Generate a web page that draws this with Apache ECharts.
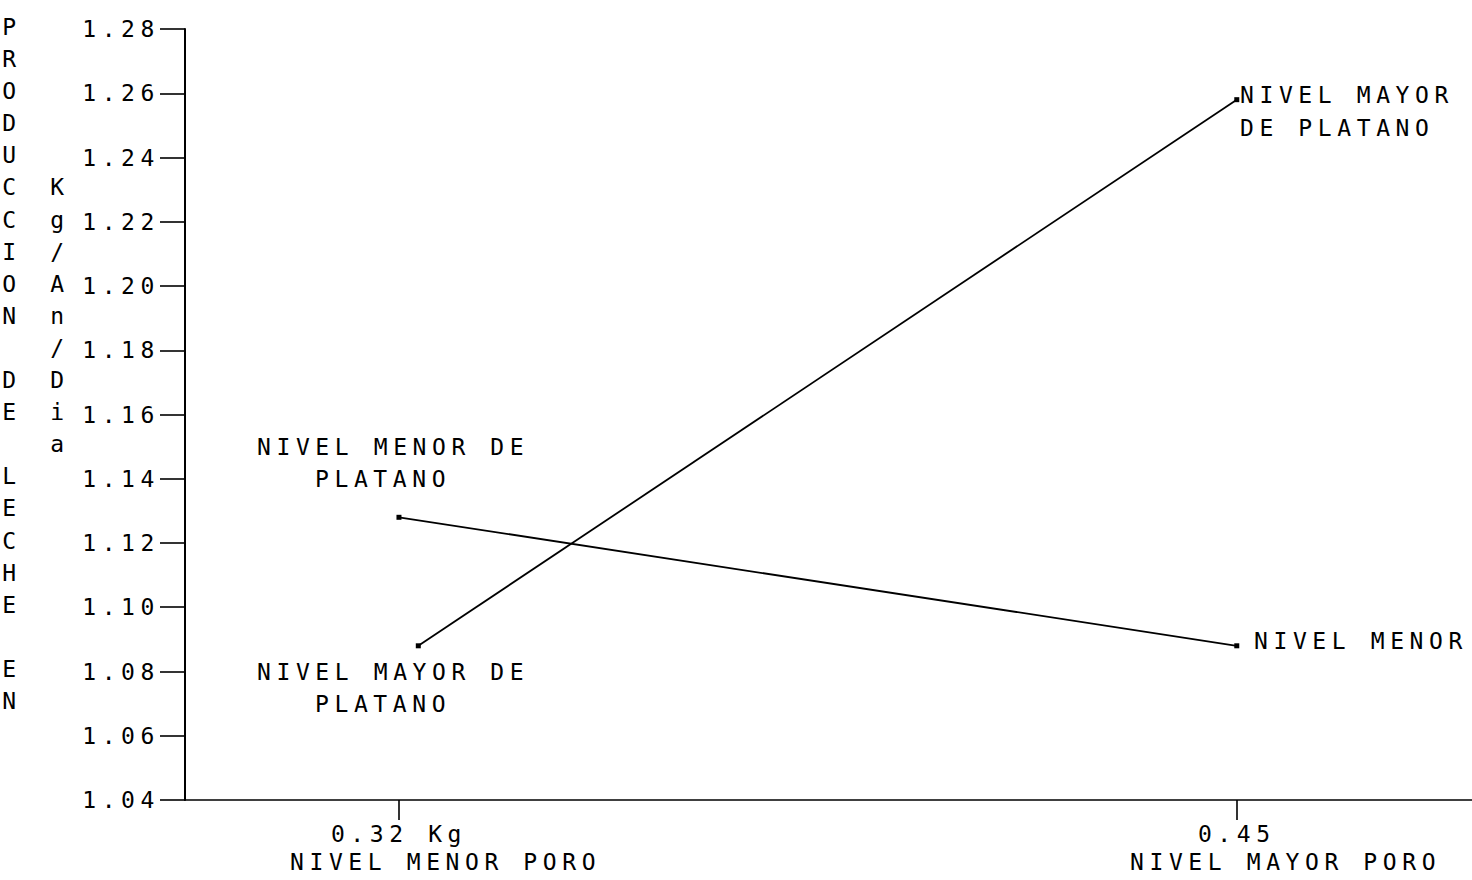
<!DOCTYPE html>
<html>
<head>
<meta charset="utf-8">
<script src="https://cdn.jsdelivr.net/npm/echarts@6/dist/echarts.min.js"></script>
<style>
  html, body { margin: 0; padding: 0; background: #fff; }
  #chart { width: 1472px; height: 880px; }
  #chart text { letter-spacing: 5.6px; }
</style>
</head>
<body>
<div id="chart"></div>
<script>
// ---- data ----
const xTickValues = [0.32, 0.45];
const xTickLabels = ['0.32 Kg', '0.45'];
const xSubLabels = ['NIVEL MENOR PORO', 'NIVEL MAYOR PORO'];
const yMin = 1.04, yMax = 1.28, yStep = 0.02;

const menorX = [0.32, 0.45];
const menorY = [1.128, 1.088];
const mayorX = [0.323, 0.45];
const mayorY = [1.088, 1.258];

const titleCol1 = 'PRODUCCION DE LECHE EN';
const titleCol2 = 'Kg/An/Dia';
const annotMayorEnd = ['NIVEL MAYOR', 'DE PLATANO'];
const annotMenorEnd = ['NIVEL MENOR'];
const annotMenorStart = ['NIVEL MENOR DE', 'PLATANO'];
const annotMayorStart = ['NIVEL MAYOR DE', 'PLATANO'];

// ---- chart ----
const FONT = '"DejaVu Sans Mono", "Liberation Mono", monospace';
const FS = 23;
const ROW = 32.1;
const chart = echarts.init(document.getElementById('chart'), null, { renderer: 'svg' });

function txt(str, x, y, align) {
  return {
    type: 'text', x: x, y: y,
    style: { text: str, fill: '#000', font: FS + 'px ' + FONT, textAlign: align || 'left', textVerticalAlign: 'middle' }
  };
}
function vcol(str, x, yTop) {
  return {
    type: 'text', x: x, y: yTop,
    style: { text: str.split('').join('\n'), fill: '#000', font: FS + 'px ' + FONT,
             textAlign: 'center', textVerticalAlign: 'top', lineHeight: ROW }
  };
}

const graphics = [
  vcol(titleCol1, 12, 27 - ROW / 2),
  vcol(titleCol2, 60, 27 + 5 * ROW - ROW / 2),
  txt(annotMayorEnd[0], 1240, 95),
  txt(annotMayorEnd[1], 1240, 128),
  txt(annotMenorEnd[0], 1254, 641),
  txt(annotMenorStart[0], 257, 447),
  txt(annotMenorStart[1], 315, 479),
  txt(annotMayorStart[0], 257, 672),
  txt(annotMayorStart[1], 315, 704),
  txt(xSubLabels[0], 290, 862),
  txt(xSubLabels[1], 1130, 862)
];

const lineStyle = { color: '#000', width: 1.8 };

chart.setOption({
  animation: false,
  backgroundColor: '#fff',
  grid: { left: 185, right: 0, top: 29, bottom: 80, containLabel: false },
  xAxis: {
    type: 'value',
    min: 0.2868, max: 0.4865,
    splitLine: { show: false },
    axisLine: { show: true, onZero: false, lineStyle: { color: '#000', width: 1.6 } },
    axisTick: { show: true, customValues: xTickValues, length: 20, lineStyle: { color: '#000', width: 1.6 } },
    axisLabel: {
      customValues: xTickValues,
      margin: 22,
      color: '#000',
      fontFamily: FONT,
      fontSize: FS,
      formatter: function (v) {
        for (let i = 0; i < xTickValues.length; i++) {
          if (Math.abs(v - xTickValues[i]) < 1e-6) return xTickLabels[i];
        }
        return '';
      }
    }
  },
  yAxis: {
    type: 'value',
    min: yMin, max: yMax, interval: yStep,
    splitLine: { show: false },
    axisLine: { show: true, lineStyle: { color: '#000', width: 2 } },
    axisTick: { show: true, length: 25, lineStyle: { color: '#000', width: 1.6 } },
    axisLabel: {
      margin: 25,
      color: '#000',
      fontFamily: FONT,
      fontSize: FS,
      formatter: function (v) { return v.toFixed(2); }
    }
  },
  graphic: graphics,
  series: [
    {
      type: 'line',
      name: 'NIVEL MENOR DE PLATANO',
      data: menorX.map((x, i) => [x, menorY[i]]),
      symbol: 'rect', symbolSize: 5, showAllSymbol: true,
      itemStyle: { color: '#000' },
      lineStyle: lineStyle
    },
    {
      type: 'line',
      name: 'NIVEL MAYOR DE PLATANO',
      data: mayorX.map((x, i) => [x, mayorY[i]]),
      symbol: 'rect', symbolSize: 5, showAllSymbol: true,
      itemStyle: { color: '#000' },
      lineStyle: lineStyle
    }
  ]
});
</script>
</body>
</html>
